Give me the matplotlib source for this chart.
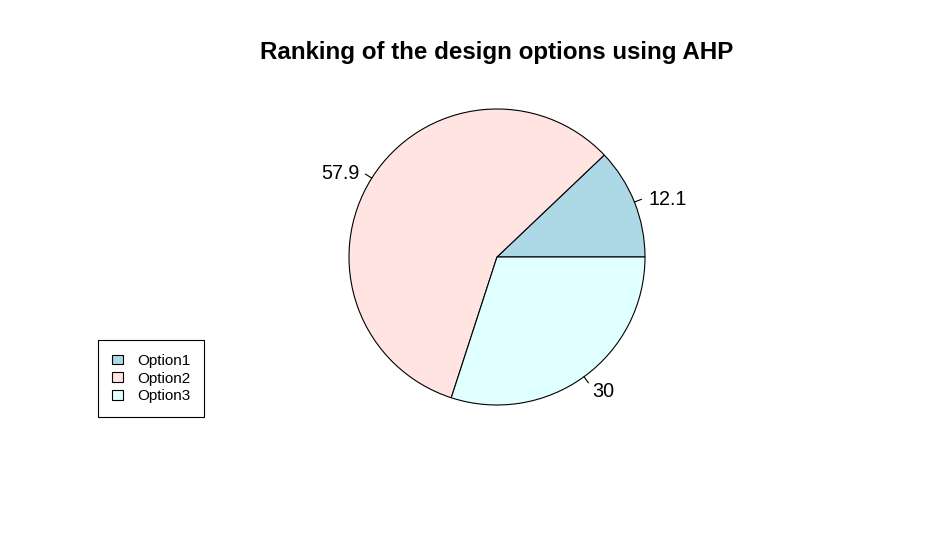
import numpy as np
import matplotlib.pyplot as plt
from matplotlib.lines import Line2D

plt.rcParams['font.family'] = ['Liberation Sans', 'DejaVu Sans']

options = ['Option1', 'Option2', 'Option3']
scores = [12.1, 57.9, 30]
colors = ['#ADD8E6', '#FFE4E1', '#E0FFFF']

W, H = 947, 540
fig = plt.figure(figsize=(W / 100, H / 100), dpi=100)
ax = fig.add_axes([0, 0, 1, 1])

cx, cy, r = 497, H - 257, 148
wedges, _ = ax.pie(scores, colors=colors, startangle=0, counterclock=True,
                   center=(cx, cy), radius=r, frame=True,
                   wedgeprops=dict(edgecolor='black', linewidth=0.8))
ax.set_xlim(0, W)
ax.set_ylim(0, H)
ax.set_aspect('equal')
ax.axis('off')

# R-style labels: tick from r to 1.05r, text at 1.1r
total = sum(scores)
start = 0.0
for val in scores:
    mid = np.deg2rad((start + val / 2) / total * 360)
    start += val
    c, s = np.cos(mid), np.sin(mid)
    ax.add_line(Line2D([cx + r * c, cx + 1.05 * r * c], [cy + r * s, cy + 1.05 * r * s],
                       color='black', lw=0.8))
    ax.text(cx + 1.1 * r * c, cy + 1.1 * r * s - 3, f'{val:g}', fontsize=14.2,
            ha='left' if c > 0 else 'right', va='center')

ax.text(497, H - 53, 'Ranking of the design options using AHP', fontsize=17.4,
        fontweight='bold', ha='center', va='center')

leg = ax.legend(wedges, options, loc='upper left',
                bbox_to_anchor=(98 / W, 1 - 340 / H), bbox_transform=fig.transFigure,
                fancybox=False, edgecolor='black', framealpha=1, fontsize=11,
                handlelength=0.75, handleheight=0.6, handletextpad=0.9,
                labelspacing=0.25, borderpad=0.9, borderaxespad=0)
leg.get_frame().set_linewidth(0.8)

fig.savefig('out.png', dpi=100, facecolor='white')
